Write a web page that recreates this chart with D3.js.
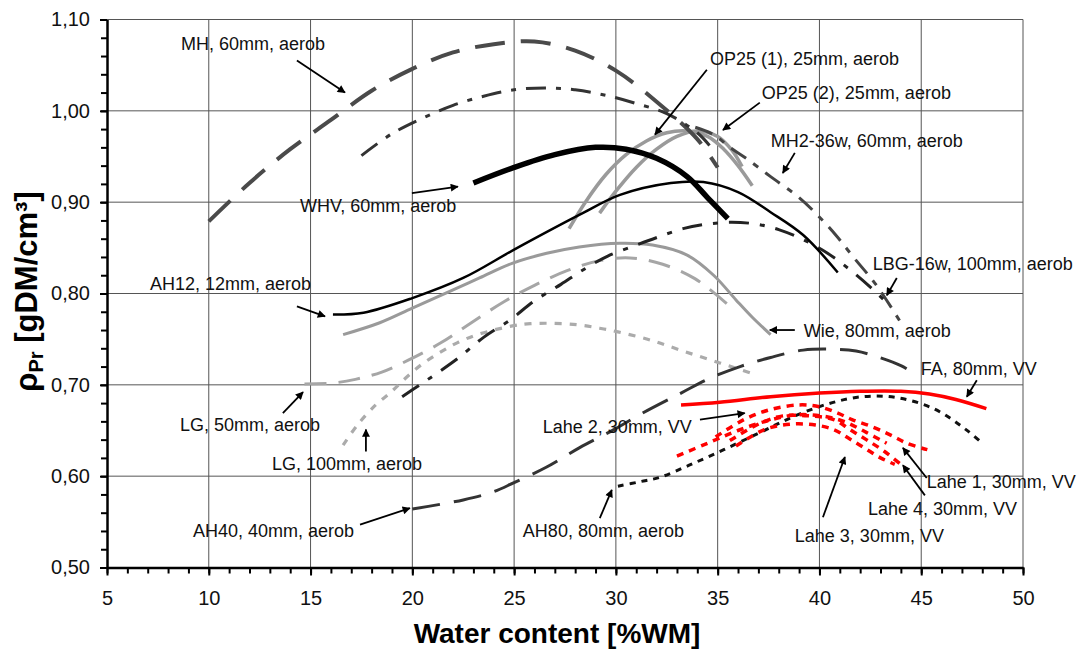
<!DOCTYPE html>
<html>
<head>
<meta charset="utf-8">
<script src="https://cdn.jsdelivr.net/npm/d3@7"></script>
<style>
  html, body { margin: 0; padding: 0; background: #fff; }
  svg { display: block; font-family: "Liberation Sans", Arial, sans-serif; }
</style>
</head>
<body>
<div id="chart"></div>
<script>
// Press density vs water content, one fitted curve per material

const X_TICKS = [5, 10, 15, 20, 25, 30, 35, 40, 45, 50];
const Y_TICKS = [0.5, 0.6, 0.7, 0.8, 0.9, 1.0, 1.1];

// curves: [water content %WM, density gDM/cm3]
const MH = [[10,0.879],[12,0.921],[14,0.958],[16,0.990],[18,1.022],[20,1.046],[22,1.064],[24,1.073],[26,1.076],[28,1.066],[30,1.044],[32,1.010],[34,0.969],[35,0.938]];
const MH_B = [[17.5,0.951],[19,0.975],[20.5,0.992],[22,1.006],[23.5,1.016],[25,1.023],[26.5,1.025],[28,1.023],[29.5,1.017],[31,1.008],[32.5,0.997],[34,0.976],[34.6,0.962]];
const WHV = [[23.0,0.921],[25,0.938],[27,0.952],[29,0.960],[30.5,0.958],[32,0.948],[33.5,0.928],[34.5,0.905],[35.5,0.882]];
const OP25_1 = [[27.7,0.871],[28.5,0.900],[29.5,0.930],[30.5,0.952],[31.5,0.967],[32.5,0.976],[33.5,0.978],[34.5,0.972],[35.3,0.958],[36.0,0.940],[36.7,0.918]];
const OP25_2 = [[29.2,0.888],[30,0.912],[31,0.938],[32,0.958],[33,0.972],[34,0.978],[35,0.972],[35.7,0.957],[36.2,0.939]];
const MH2_36W = [[33.9,0.982],[34.8,0.974],[35.6,0.960],[36.4,0.948],[37.6,0.928],[39.0,0.905],[39.9,0.886],[40.8,0.864],[41.7,0.839],[42.8,0.809],[44.0,0.768]];
const LBG_16W = [[19.5,0.687],[20.5,0.702],[21.3,0.714],[22.3,0.730],[23.5,0.752],[24.8,0.771],[26,0.792],[27.3,0.810],[28.4,0.826],[29.6,0.841],[31,0.853],[32.1,0.862],[33.3,0.871],[34.5,0.876],[35.7,0.878],[36.9,0.876],[38,0.870],[39.2,0.859],[40.4,0.844],[41.5,0.826],[42.6,0.805],[43.4,0.788]];
const AH12 = [[16.1,0.777],[17.6,0.779],[20,0.795],[22.5,0.817],[25,0.848],[28.2,0.886],[30.2,0.908],[32.7,0.921],[34.3,0.922],[36,0.911],[37.6,0.889],[39.2,0.864],[40.9,0.823]];
const WIE = [[16.6,0.755],[18.4,0.768],[20,0.784],[21.7,0.801],[23.3,0.817],[24.9,0.833],[26.6,0.844],[28.2,0.851],[30.2,0.855],[31.8,0.853],[33.5,0.842],[34.8,0.820],[35.9,0.793],[36.7,0.774],[37.6,0.755]];
const LG50 = [[14.7,0.701],[16.1,0.702],[17.2,0.706],[18.5,0.714],[19.8,0.727],[21.4,0.746],[22.9,0.768],[24.5,0.791],[26,0.809],[27.6,0.825],[29.2,0.836],[30.7,0.839],[32.3,0.832],[33.9,0.816],[35.6,0.786]];
const LG100 = [[16.6,0.634],[17.3,0.656],[18.2,0.678],[18.9,0.691],[19.7,0.708],[20.5,0.723],[21.4,0.736],[22.2,0.746],[23.2,0.755],[24.8,0.764],[25.8,0.767],[27.4,0.767],[28.4,0.765],[29.2,0.762],[30.1,0.758],[31.7,0.749],[33.3,0.737],[35.1,0.724],[36.9,0.711]];
const AH40 = [[20,0.564],[22.5,0.574],[24,0.583],[25,0.593],[26.6,0.610],[28.2,0.631],[29.9,0.651],[31.3,0.669],[33.2,0.691],[34.6,0.707],[36.1,0.720],[37.6,0.730],[39.2,0.738],[40.7,0.739],[41.8,0.737],[42.8,0.731],[44,0.721],[44.7,0.712]];
const FA = [[33.2,0.678],[35.1,0.681],[37.6,0.687],[40,0.691],[42,0.693],[44,0.693],[45.4,0.690],[46.7,0.684],[48.2,0.674]];
const AH80 = [[30.1,0.589],[31.2,0.594],[32.2,0.599],[33.6,0.612],[35.3,0.629],[37.1,0.648],[38.7,0.665],[40.4,0.679],[42.1,0.687],[43.8,0.686],[45.6,0.674],[47.2,0.651],[48,0.636]];
const LAHE_1 = [[34.9,0.643],[36.3,0.662],[37.6,0.673],[39,0.678],[40,0.676],[40.9,0.669],[41.6,0.662],[42.6,0.654],[43.5,0.645],[44.3,0.636],[45.3,0.629]];
const LAHE_2 = [[33.0,0.622],[34.5,0.636],[36,0.650],[37.5,0.661],[38.8,0.667],[40.1,0.666],[41.2,0.660],[42.3,0.648],[43.3,0.636]];
const LAHE_3 = [[35.9,0.633],[37.3,0.651],[38.6,0.657],[39.8,0.656],[40.7,0.651],[41.4,0.642],[42.2,0.631],[43,0.620],[43.7,0.613]];
const LAHE_4 = [[35.6,0.639],[37.1,0.658],[38.2,0.666],[39.5,0.666],[40.7,0.662],[41.5,0.651],[42.3,0.640],[43.2,0.627],[44.2,0.609]];

// drawing order and line style per curve
const SERIES = [
    { data: LG100,   color: '#ababab', width: 3.2, dash: '7,8' },
    { data: LG50,    color: '#a6a6a6', width: 3,   dash: '22,12' },
    { data: WIE,     color: '#9a9a9a', width: 3,   dash: null },
    { data: OP25_1,  color: '#9a9a9a', width: 3.5, dash: null },
    { data: OP25_2,  color: '#9a9a9a', width: 3.5, dash: null },
    { data: MH,      color: '#4a4a4a', width: 4,   dash: '30,16' },
    { data: MH_B,    color: '#333',    width: 3,   dash: '20,10,5,10' },
    { data: MH2_36W, color: '#444',    width: 3,   dash: '18,9,6,9' },
    { data: LBG_16W, color: '#222',    width: 3,   dash: '20,11,5,11' },
    { data: AH40,    color: '#333',    width: 3,   dash: '28,14' },
    { data: AH12,    color: '#000',    width: 2.5, dash: null },
    { data: WHV,     color: '#000',    width: 5.5, dash: null },
    { data: AH80,    color: '#111',    width: 3,   dash: '6,6' },
    { data: LAHE_2,  color: '#ff0000', width: 3.5, dash: '7,6' },
    { data: LAHE_3,  color: '#ff0000', width: 3.5, dash: '7,6' },
    { data: LAHE_4,  color: '#ff0000', width: 3.5, dash: '7,6' },
    { data: LAHE_1,  color: '#ff0000', width: 3.5, dash: '7,6' },
    { data: FA,      color: '#ff0000', width: 3.5, dash: null }
];

// annotation text (left, baseline) and arrow from -> tip, in data units
const LABELS = ['MH, 60mm, aerob', 'OP25 (1), 25mm, aerob', 'OP25 (2), 25mm, aerob', 'MH2-36w, 60mm, aerob',
    'WHV, 60mm, aerob', 'LBG-16w, 100mm, aerob', 'AH12, 12mm, aerob', 'Wie, 80mm, aerob', 'FA, 80mm, VV',
    'LG, 50mm, aerob', 'LG, 100mm, aerob', 'Lahe 2, 30mm, VV', 'AH40, 40mm, aerob', 'AH80, 80mm, aerob',
    'Lahe 1, 30mm, VV', 'Lahe 4, 30mm, VV', 'Lahe 3, 30mm, VV'];
const LABEL_POS = [[8.63,1.067],[34.62,1.050],[37.17,1.013],[37.61,0.960],[14.48,0.889],[42.62,0.826],[7.11,0.804],
    [39.23,0.752],[44.98,0.711],[8.59,0.650],[13.10,0.607],[26.41,0.647],[9.22,0.533],[25.43,0.533],
    [45.27,0.587],[42.38,0.558],[38.79,0.528]];
const ARROWS = [[14.33,1.055,16.69,1.020],[34.47,1.045,31.92,0.974],[37.07,1.009,35.26,0.979],[38.79,0.954,38.2,0.932],
    [19.98,0.910,22.24,0.917],[43.80,0.817,43.31,0.798],[14.33,0.786,15.71,0.775],[38.79,0.760,37.56,0.760],
    [47.73,0.705,47.24,0.687],[13.64,0.669,14.63,0.692],[17.72,0.627,17.72,0.651],[34.13,0.662,36.33,0.669],
    [17.43,0.547,19.88,0.565],[29.21,0.554,29.80,0.585],[45.27,0.598,44.10,0.631],[45.18,0.579,44.10,0.612],
    [40.17,0.555,41.25,0.621]];

const width = 1078, height = 651;
const margin = { top: 19.5, right: 55, bottom: 83.5, left: 107 };

const x = d3.scaleLinear().domain([5, 50]).range([margin.left, width - margin.right]);
const y = d3.scaleLinear().domain([0.5, 1.1]).range([height - margin.bottom, margin.top]);

const svg = d3.select('#chart').append('svg')
    .attr('width', width).attr('height', height);

svg.append('defs').append('marker')
    .attr('id', 'arrow').attr('viewBox', '0 0 10 10')
    .attr('refX', 9).attr('refY', 5)
    .attr('markerWidth', 11).attr('markerHeight', 8)
    .attr('markerUnits', 'userSpaceOnUse').attr('orient', 'auto')
    .append('path').attr('d', 'M0,0 L10,5 L0,10 z').attr('fill', '#000');

// grid
const grid = svg.append('g');
grid.selectAll('.vg').data(X_TICKS.slice(1)).join('line')
    .attr('x1', d => x(d)).attr('x2', d => x(d))
    .attr('y1', y(0.5)).attr('y2', y(1.1))
    .attr('stroke', '#555').attr('stroke-width', 1);
grid.selectAll('.hg').data(Y_TICKS.slice(1)).join('line')
    .attr('x1', x(5)).attr('x2', x(50))
    .attr('y1', d => y(d)).attr('y2', d => y(d))
    .attr('stroke', '#555').attr('stroke-width', 1);

// axes
const fmtY = d => d3.format('.2f')(d).replace('.', ',');

svg.append('g').attr('transform', `translate(0,${y(0.5)})`)
    .call(d3.axisBottom(x).tickValues(d3.range(5, 51, 1)).tickSize(6).tickSizeOuter(0).tickFormat(''))
    .call(g => g.select('.domain').remove())
    .call(g => g.selectAll('line').attr('stroke-width', 2));
svg.append('g').attr('transform', `translate(0,${y(0.5)})`)
    .call(d3.axisBottom(x).tickValues(X_TICKS).tickSize(8).tickSizeOuter(0).tickPadding(15))
    .call(g => g.select('.domain').attr('stroke-width', 2.5))
    .call(g => g.selectAll('line').attr('stroke-width', 2))
    .call(g => g.selectAll('text').attr('font-size', 20).attr('fill', '#111')
        .style('font-family', '"Liberation Sans", Arial, sans-serif'));

svg.append('g').attr('transform', `translate(${x(5)},0)`)
    .call(d3.axisLeft(y).tickValues(d3.range(0.5, 1.1001, 0.02)).tickSize(6).tickSizeOuter(0).tickFormat(''))
    .call(g => g.select('.domain').remove())
    .call(g => g.selectAll('line').attr('stroke-width', 2));
svg.append('g').attr('transform', `translate(${x(5)},0)`)
    .call(d3.axisLeft(y).tickValues(Y_TICKS).tickSize(7).tickSizeOuter(0).tickPadding(10).tickFormat(fmtY))
    .call(g => g.select('.domain').attr('stroke-width', 2.5))
    .call(g => g.selectAll('line').attr('stroke-width', 2))
    .call(g => g.selectAll('text').attr('font-size', 20).attr('fill', '#111')
        .style('font-family', '"Liberation Sans", Arial, sans-serif'));

// axis titles
svg.append('text')
    .attr('x', (x(5) + x(50)) / 2 - 8).attr('y', 643)
    .attr('text-anchor', 'middle')
    .attr('font-size', 28).attr('font-weight', 700).attr('fill', '#000')
    .text('Water content [%WM]');

const yTitle = svg.append('text')
    .attr('transform', `translate(37,${(y(0.5) + y(1.1)) / 2 - 2}) rotate(-90)`)
    .attr('text-anchor', 'middle')
    .attr('font-size', 31).attr('font-weight', 700).attr('fill', '#000');
yTitle.append('tspan').text('ρ');
yTitle.append('tspan').attr('font-size', 20).attr('dy', 6).text('Pr');
yTitle.append('tspan').attr('dy', -6).text(' [gDM/cm³]');

// curves
const line = d3.line()
    .x(d => x(d[0])).y(d => y(d[1]))
    .curve(d3.curveCatmullRom.alpha(0.5));

svg.append('g').selectAll('path').data(SERIES).join('path')
    .attr('d', d => line(d.data))
    .attr('fill', 'none')
    .attr('stroke', d => d.color)
    .attr('stroke-width', d => d.width)
    .attr('stroke-dasharray', d => d.dash)
    .attr('stroke-linecap', 'butt');

// annotations
const ann = svg.append('g');
ann.selectAll('line').data(ARROWS).join('line')
    .attr('x1', d => x(d[0])).attr('y1', d => y(d[1]))
    .attr('x2', d => x(d[2])).attr('y2', d => y(d[3]))
    .attr('stroke', '#000').attr('stroke-width', 1.8)
    .attr('marker-end', 'url(#arrow)');
ann.selectAll('text').data(LABELS).join('text')
    .attr('x', (d, i) => x(LABEL_POS[i][0]))
    .attr('y', (d, i) => y(LABEL_POS[i][1]))
    .attr('font-size', 18).attr('fill', '#111')
    .text(d => d);
</script>
</body>
</html>
